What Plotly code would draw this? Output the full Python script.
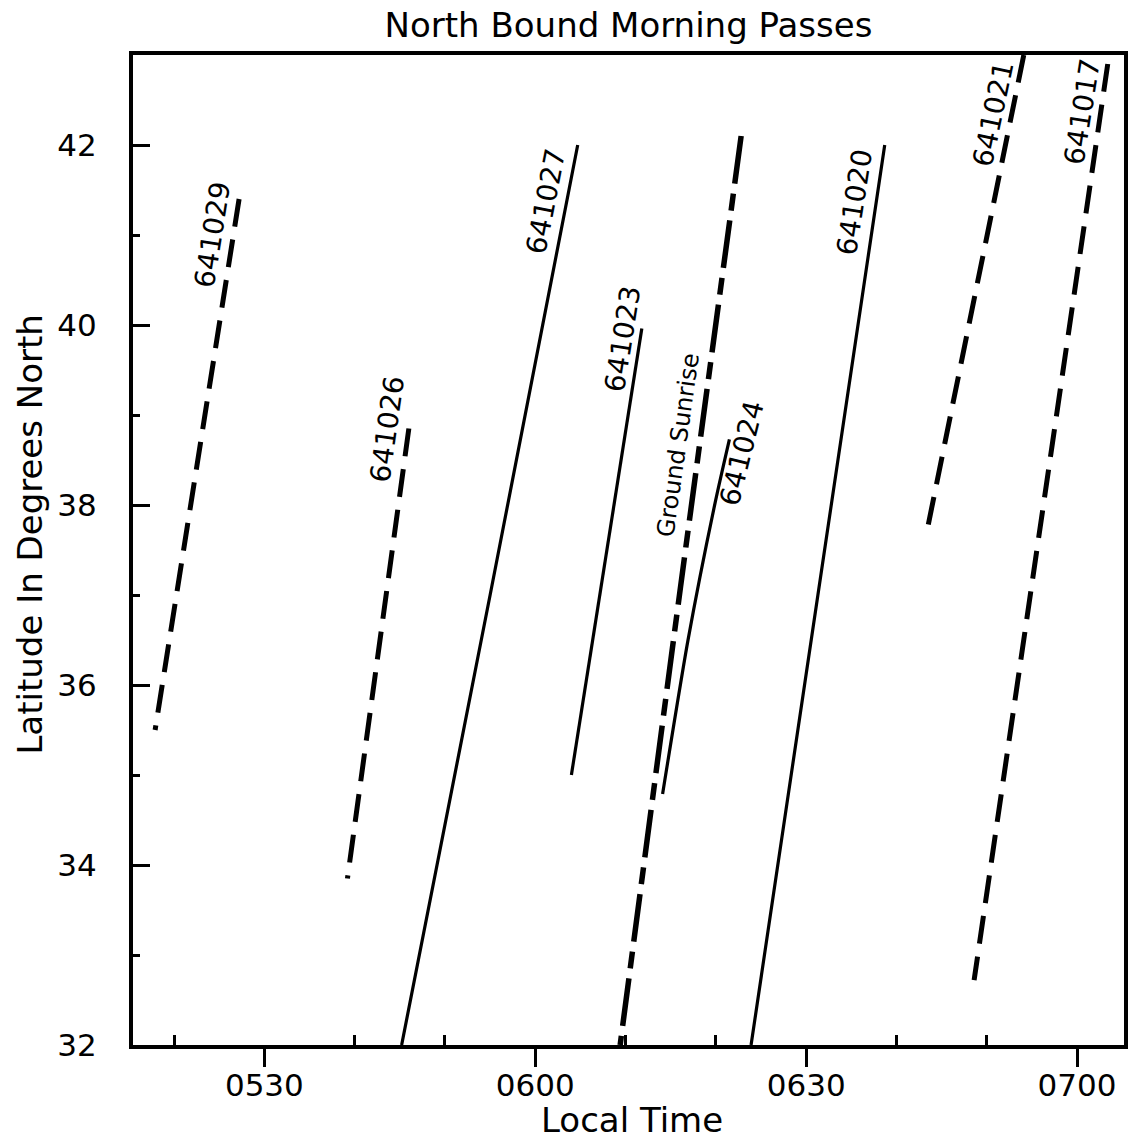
import plotly.graph_objects as go

# ---- data: time in minutes after local midnight, latitude in degrees north ----
p641029_time = [317.9, 327.2]
p641029_lat = [35.5, 41.4]

p641026_time = [339.2, 346.0]
p641026_lat = [33.85, 38.85]

p641027_time = [345.2, 355.0, 364.7]
p641027_lat = [32.0, 37.0, 42.0]

p641023_time = [364.0, 371.8]
p641023_lat = [35.0, 39.96]

sunrise_time = [369.4, 376.1, 382.8]
sunrise_lat = [32.0, 37.1, 42.1]

p641024_time = [374.1, 376.9, 379.95, 381.5]
p641024_lat = [34.79, 36.49, 38.04, 38.73]

p641020_time = [383.9, 391.3, 398.7]
p641020_lat = [32.0, 37.0, 42.0]

p641021_time = [403.5, 414.1]
p641021_lat = [37.77, 43.0]

p641017_time = [408.6, 423.4]
p641017_lat = [32.72, 42.9]

x_tick_vals = [330, 360, 390, 420]
x_tick_text = ["0530", "0600", "0630", "0700"]
x_minor_vals = [320, 340, 350, 370, 380, 400, 410]
y_tick_vals = [32, 34, 36, 38, 40, 42]
y_minor_vals = [33, 35, 37, 39, 41]

FONT = "DejaVu Sans"

fig = go.Figure()

def add_pass(t, lat, name, dash, width):
    # drawn from the northern end so the dash pattern starts cleanly at the top
    fig.add_trace(go.Scatter(
        x=list(t)[::-1], y=list(lat)[::-1], mode="lines", name=name, showlegend=False,
        line=dict(color="black", width=width, dash=dash, shape="spline", smoothing=0.6),
        hoverinfo="skip"))

DASH = "28px,13px"
DASHDOT = "48px,10px,17px,10px"

add_pass(p641029_time, p641029_lat, "641029", DASH, 5)
add_pass(p641026_time, p641026_lat, "641026", DASH, 5)
add_pass(p641027_time, p641027_lat, "641027", "solid", 3.2)
add_pass(p641023_time, p641023_lat, "641023", "solid", 3.2)
add_pass(sunrise_time, sunrise_lat, "Ground Sunrise", DASHDOT, 5.5)
add_pass(p641024_time, p641024_lat, "641024", "solid", 3.2)
add_pass(p641020_time, p641020_lat, "641020", "solid", 3.2)
add_pass(p641021_time, p641021_lat, "641021", DASH, 5)
add_pass(p641017_time, p641017_lat, "641017", DASH, 5)

# rotated labels beside each pass: (text, x, y, angle, size)
labels = [
    ("641029", 324.2, 41.0, -81, 28),
    ("641026", 343.6, 38.84, -82, 28),
    ("641027", 361.2, 41.37, -79, 28),
    ("641023", 369.7, 39.85, -81, 28),
    ("Ground Sunrise", 375.8, 38.67, -82, 24),
    ("641024", 382.9, 38.57, -76, 28),
    ("641020", 395.4, 41.37, -81, 28),
    ("641021", 410.7, 42.34, -78, 28),
    ("641017", 420.6, 42.37, -81, 28),
]
for txt, lx, ly, ang, sz in labels:
    fig.add_annotation(x=lx, y=ly, xref="x", yref="y", text=txt, showarrow=False,
                       textangle=ang, font=dict(family=FONT, size=sz, color="black"),
                       xanchor="center", yanchor="middle")

fig.add_annotation(x=0.5035, y=-0.0758, xref="paper", yref="paper", text="Local Time",
                   showarrow=False, font=dict(family=FONT, size=34, color="black"),
                   xanchor="center", yanchor="middle")
fig.add_annotation(x=-0.1035, y=0.516, xref="paper", yref="paper",
                   text="Latitude In Degrees North", textangle=-90, showarrow=False,
                   font=dict(family=FONT, size=34, color="black"),
                   xanchor="center", yanchor="middle")

fig.update_layout(
    width=1133, height=1145,
    margin=dict(l=133, r=5, t=55, b=100),
    paper_bgcolor="white", plot_bgcolor="white",
    title=dict(text="North Bound Morning Passes", x=0.5, xref="paper",
               y=1 - 25 / 1145, yanchor="middle",
               font=dict(family=FONT, size=34, color="black")),
    xaxis=dict(range=[315.45, 425.2], showgrid=False, zeroline=False,
               showline=True, linecolor="black", linewidth=4, mirror=True,
               tickmode="array", tickvals=x_tick_vals, ticktext=x_tick_text,
               ticks="outside", ticklen=18, tickwidth=3, tickcolor="black",
               ticklabelstandoff=-8,
               tickfont=dict(family=FONT, size=31, color="black"),
               minor=dict(tickmode="array", tickvals=x_minor_vals, ticks="inside",
                          ticklen=10, tickwidth=3, tickcolor="black")),
    yaxis=dict(range=[32, 43], showgrid=False, zeroline=False,
               showline=True, linecolor="black", linewidth=4, mirror=True,
               tickmode="array", tickvals=y_tick_vals,
               ticktext=[str(v) for v in y_tick_vals],
               ticks="inside", ticklen=17, tickwidth=3, tickcolor="black",
               ticklabelstandoff=26,
               tickfont=dict(family=FONT, size=31, color="black"),
               minor=dict(tickmode="array", tickvals=y_minor_vals, ticks="inside",
                          ticklen=7, tickwidth=3, tickcolor="black")),
)

fig.write_html("out.html", config={"displayModeBar": False},
               post_script="document.body.style.margin='0';")
